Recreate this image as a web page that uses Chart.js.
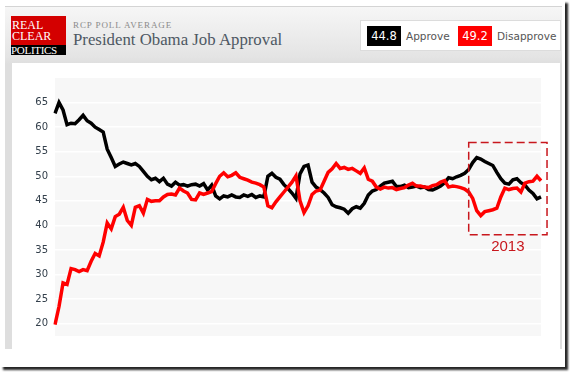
<!DOCTYPE html>
<html>
<head>
<meta charset="utf-8">
<script src="https://cdn.jsdelivr.net/npm/chart.js@4"></script>
<style>
  html, body { margin: 0; padding: 0; background: #fff; }
  #page { position: absolute; left: 0; top: 0; width: 565px; height: 367px; background: #fff;
          box-shadow: 3px 3px 2px rgba(0,0,0,0.85); overflow: hidden; }
  #frame { position: absolute; left: 5px; top: 6px; width: 557px; height: 343px;
           background: linear-gradient(#f6f6f6 0px, #e4e4e4 50px, #dedede 57px, #dedede 100%);
           border-top: 1px solid #d4d4d4; box-sizing: border-box; }
  #panel { position: absolute; left: 12px; top: 63px; width: 548px; height: 286px; background: #fff; }
  #logo { position: absolute; left: 11px; top: 16px; width: 55px; height: 39px; background: #d40000;
          font-family: "Liberation Serif", serif; color: #fff; font-size: 12px; line-height: 10px; }
  #logo .r { position: absolute; left: 1px; }
  #logo .p { position: absolute; left: 0; top: 29px; width: 55px; height: 10px; background: #000;
             font-size: 11px; line-height: 10px; letter-spacing: -0.3px; }
  #kicker { position: absolute; left: 73px; top: 20px; font-family: "Liberation Serif", serif;
            font-size: 9px; letter-spacing: 0.9px; color: #8a8a8a; }
  #title { position: absolute; left: 73px; top: 30px; font-family: "Liberation Serif", serif;
           font-size: 16.8px; color: #4e5863; }
  #legend { position: absolute; left: 360px; top: 20px; width: 201px; height: 31px; background: #fff;
            border: 1px solid #dcdcdc; box-sizing: border-box; font-family: "DejaVu Sans", sans-serif; }
  .val { position: absolute; top: 5px; width: 34px; height: 20px; color: #fff; font-size: 11.5px;
         line-height: 20px; text-align: center; }
  .lab { position: absolute; top: 5px; line-height: 20px; font-size: 10.5px; color: #555; }
  #chartBox { position: absolute; left: 12px; top: 63px; }
</style>
</head>
<body>
<div id="page">
  <div id="frame"></div>
  <div id="panel"></div>
  <div id="logo">
    <span class="r" style="top:4px">REAL</span>
    <span class="r" style="top:15px">CLEAR</span>
    <span class="p">POLITICS</span>
  </div>
  <div id="kicker">RCP POLL AVERAGE</div>
  <div id="title">President Obama Job Approval</div>
  <div id="legend">
    <div class="val" style="left:6px;background:#000">44.8</div>
    <div class="lab" style="left:45px">Approve</div>
    <div class="val" style="left:97px;background:#ff0000">49.2</div>
    <div class="lab" style="left:136px">Disapprove</div>
  </div>
  <div id="chartBox"><canvas id="approvalChart" width="550" height="286"></canvas></div>
</div>

<script>
// RCP average, Jan 2009 -> mid 2013
const approve = [
    62.8, 65.0, 63.5, 60.5, 60.8, 60.7, 61.5, 62.4, 61.3, 60.8,
    60.0, 59.5, 59.0, 55.5, 53.8, 52.0, 52.5, 52.9, 52.6, 52.3,
    52.6, 52.0, 51.0, 50.0, 49.3, 49.6, 48.9, 49.6, 48.4, 48.0,
    48.8, 48.2, 48.3, 48.0, 48.3, 48.4, 48.0, 48.5, 47.2, 48.2,
    46.0, 45.4, 46.0, 45.8, 46.2, 45.8, 45.7, 46.2, 45.9, 46.3,
    45.7, 46.0, 45.8, 50.0, 50.6, 49.8, 49.4, 48.3, 47.5, 46.6,
    45.5, 50.5, 52.0, 52.3, 48.8, 47.8, 47.3, 46.6, 45.7, 44.2,
    43.8, 43.6, 43.3, 42.5, 43.4, 43.8, 43.5, 44.5, 46.2, 47.0,
    47.3, 48.0, 48.6, 48.8, 49.0, 47.9, 47.9, 48.2, 47.7, 47.8,
    48.0, 47.7, 47.8, 47.3, 47.2, 47.6, 48.0, 48.7, 49.7, 49.5,
    49.9, 50.2, 50.6, 51.4, 52.8, 53.8, 53.5, 53.0, 52.6, 52.2,
    50.8, 49.5, 48.6, 48.4, 49.3, 49.5, 48.7, 48.2, 47.2, 46.5,
    45.4, 45.8
];
const disapprove = [
    19.8, 23.5, 28.3, 28.0, 31.2, 31.0, 30.6, 31.0, 30.8, 32.7,
    34.3, 33.8, 36.6, 40.5, 39.3, 41.8, 42.3, 43.7, 41.0, 40.0,
    43.7, 44.0, 42.5, 45.3, 44.9, 45.0, 45.0, 45.8, 46.3, 46.4,
    46.2, 47.6, 47.0, 46.6, 45.3, 45.2, 46.6, 46.3, 46.6, 46.9,
    48.5, 50.0, 50.7, 49.9, 50.2, 50.7, 49.8, 49.5, 49.2, 48.8,
    48.6, 48.3, 47.8, 44.0, 43.6, 44.8, 45.8, 46.8, 47.8, 48.8,
    50.1, 45.0, 42.6, 44.0, 46.3, 47.0, 47.2, 49.0, 50.8, 51.5,
    52.6, 51.6, 51.8, 51.4, 51.6, 51.1, 50.6, 51.7, 49.4, 49.0,
    47.8, 47.4, 47.8, 47.6, 47.7, 47.3, 47.5, 47.7, 48.2, 48.6,
    48.0, 48.0, 47.8, 47.7, 48.1, 48.3, 48.8, 49.1, 47.8, 48.0,
    47.9, 47.7, 47.4, 46.8, 45.5, 43.0, 42.0, 42.8, 43.0, 43.2,
    43.5, 45.8, 47.6, 47.3, 47.5, 47.6, 46.8, 48.6, 48.9, 49.0,
    50.0, 49.1
];
const yTicks = [20, 25, 30, 35, 40, 45, 50, 55, 60, 65];
// dashed "2013" highlight, in data units (sample index / percent)
const box2013 = { from: 103, to: 122.5, top: 56.9, bottom: 38.1, label: '2013' };

const plotBackground = {
    id: 'plotBackground',
    beforeDraw(chart) {
        const a = chart.chartArea;
        const ctx = chart.ctx;
        ctx.save();
        ctx.fillStyle = '#f7f7f7';
        ctx.fillRect(a.left, a.top, a.right - a.left, a.bottom - a.top);
        ctx.restore();
    }
};

const highlightBox = {
    id: 'highlightBox',
    afterDraw(chart) {
        const x = chart.scales.x, y = chart.scales.y;
        const ctx = chart.ctx;
        const left = x.getPixelForValue(box2013.from);
        const right = x.getPixelForValue(box2013.to);
        const top = y.getPixelForValue(box2013.top);
        const bottom = y.getPixelForValue(box2013.bottom);
        ctx.save();
        ctx.strokeStyle = '#c8171d';
        ctx.lineWidth = 1.5;
        ctx.setLineDash([8, 4]);
        ctx.strokeRect(left, top, right - left, bottom - top);
        ctx.setLineDash([]);
        ctx.fillStyle = '#c8171d';
        ctx.font = '15px "Liberation Sans", Arial, sans-serif';
        ctx.textAlign = 'center';
        ctx.textBaseline = 'top';
        ctx.fillText(box2013.label, (left + right) / 2, bottom + 5);
        ctx.restore();
    }
};

new Chart(document.getElementById('approvalChart'), {
    type: 'line',
    data: {
        labels: approve.map((_, i) => String(i)),
        datasets: [{
            label: 'Approve',
            data: approve,
            borderColor: '#000000',
            borderWidth: 3.5,
            pointRadius: 0,
            tension: 0,
            order: 1
        }, {
            label: 'Disapprove',
            data: disapprove,
            borderColor: '#ff0000',
            borderWidth: 3.5,
            pointRadius: 0,
            tension: 0,
            order: 0
        }]
    },
    options: {
        responsive: false,
        animation: false,
        devicePixelRatio: 1,
        layout: { padding: { top: 15, right: 21, left: 0, bottom: 0 } },
        plugins: { legend: { display: false }, tooltip: { enabled: false } },
        scales: {
            x: { display: false },
            y: {
                min: 17.5,
                max: 70,
                afterFit(scale) { scale.width = 43; },
                afterBuildTicks(scale) { scale.ticks = yTicks.map(v => ({ value: v })); },
                border: { display: false },
                grid: { color: '#ffffff', lineWidth: 1.5, drawTicks: false, tickLength: 0 },
                ticks: {
                    padding: 7,
                    color: '#34404c',
                    font: { family: 'DejaVu Sans', size: 10 }
                }
            }
        }
    },
    plugins: [plotBackground, highlightBox]
});
</script>
</body>
</html>
